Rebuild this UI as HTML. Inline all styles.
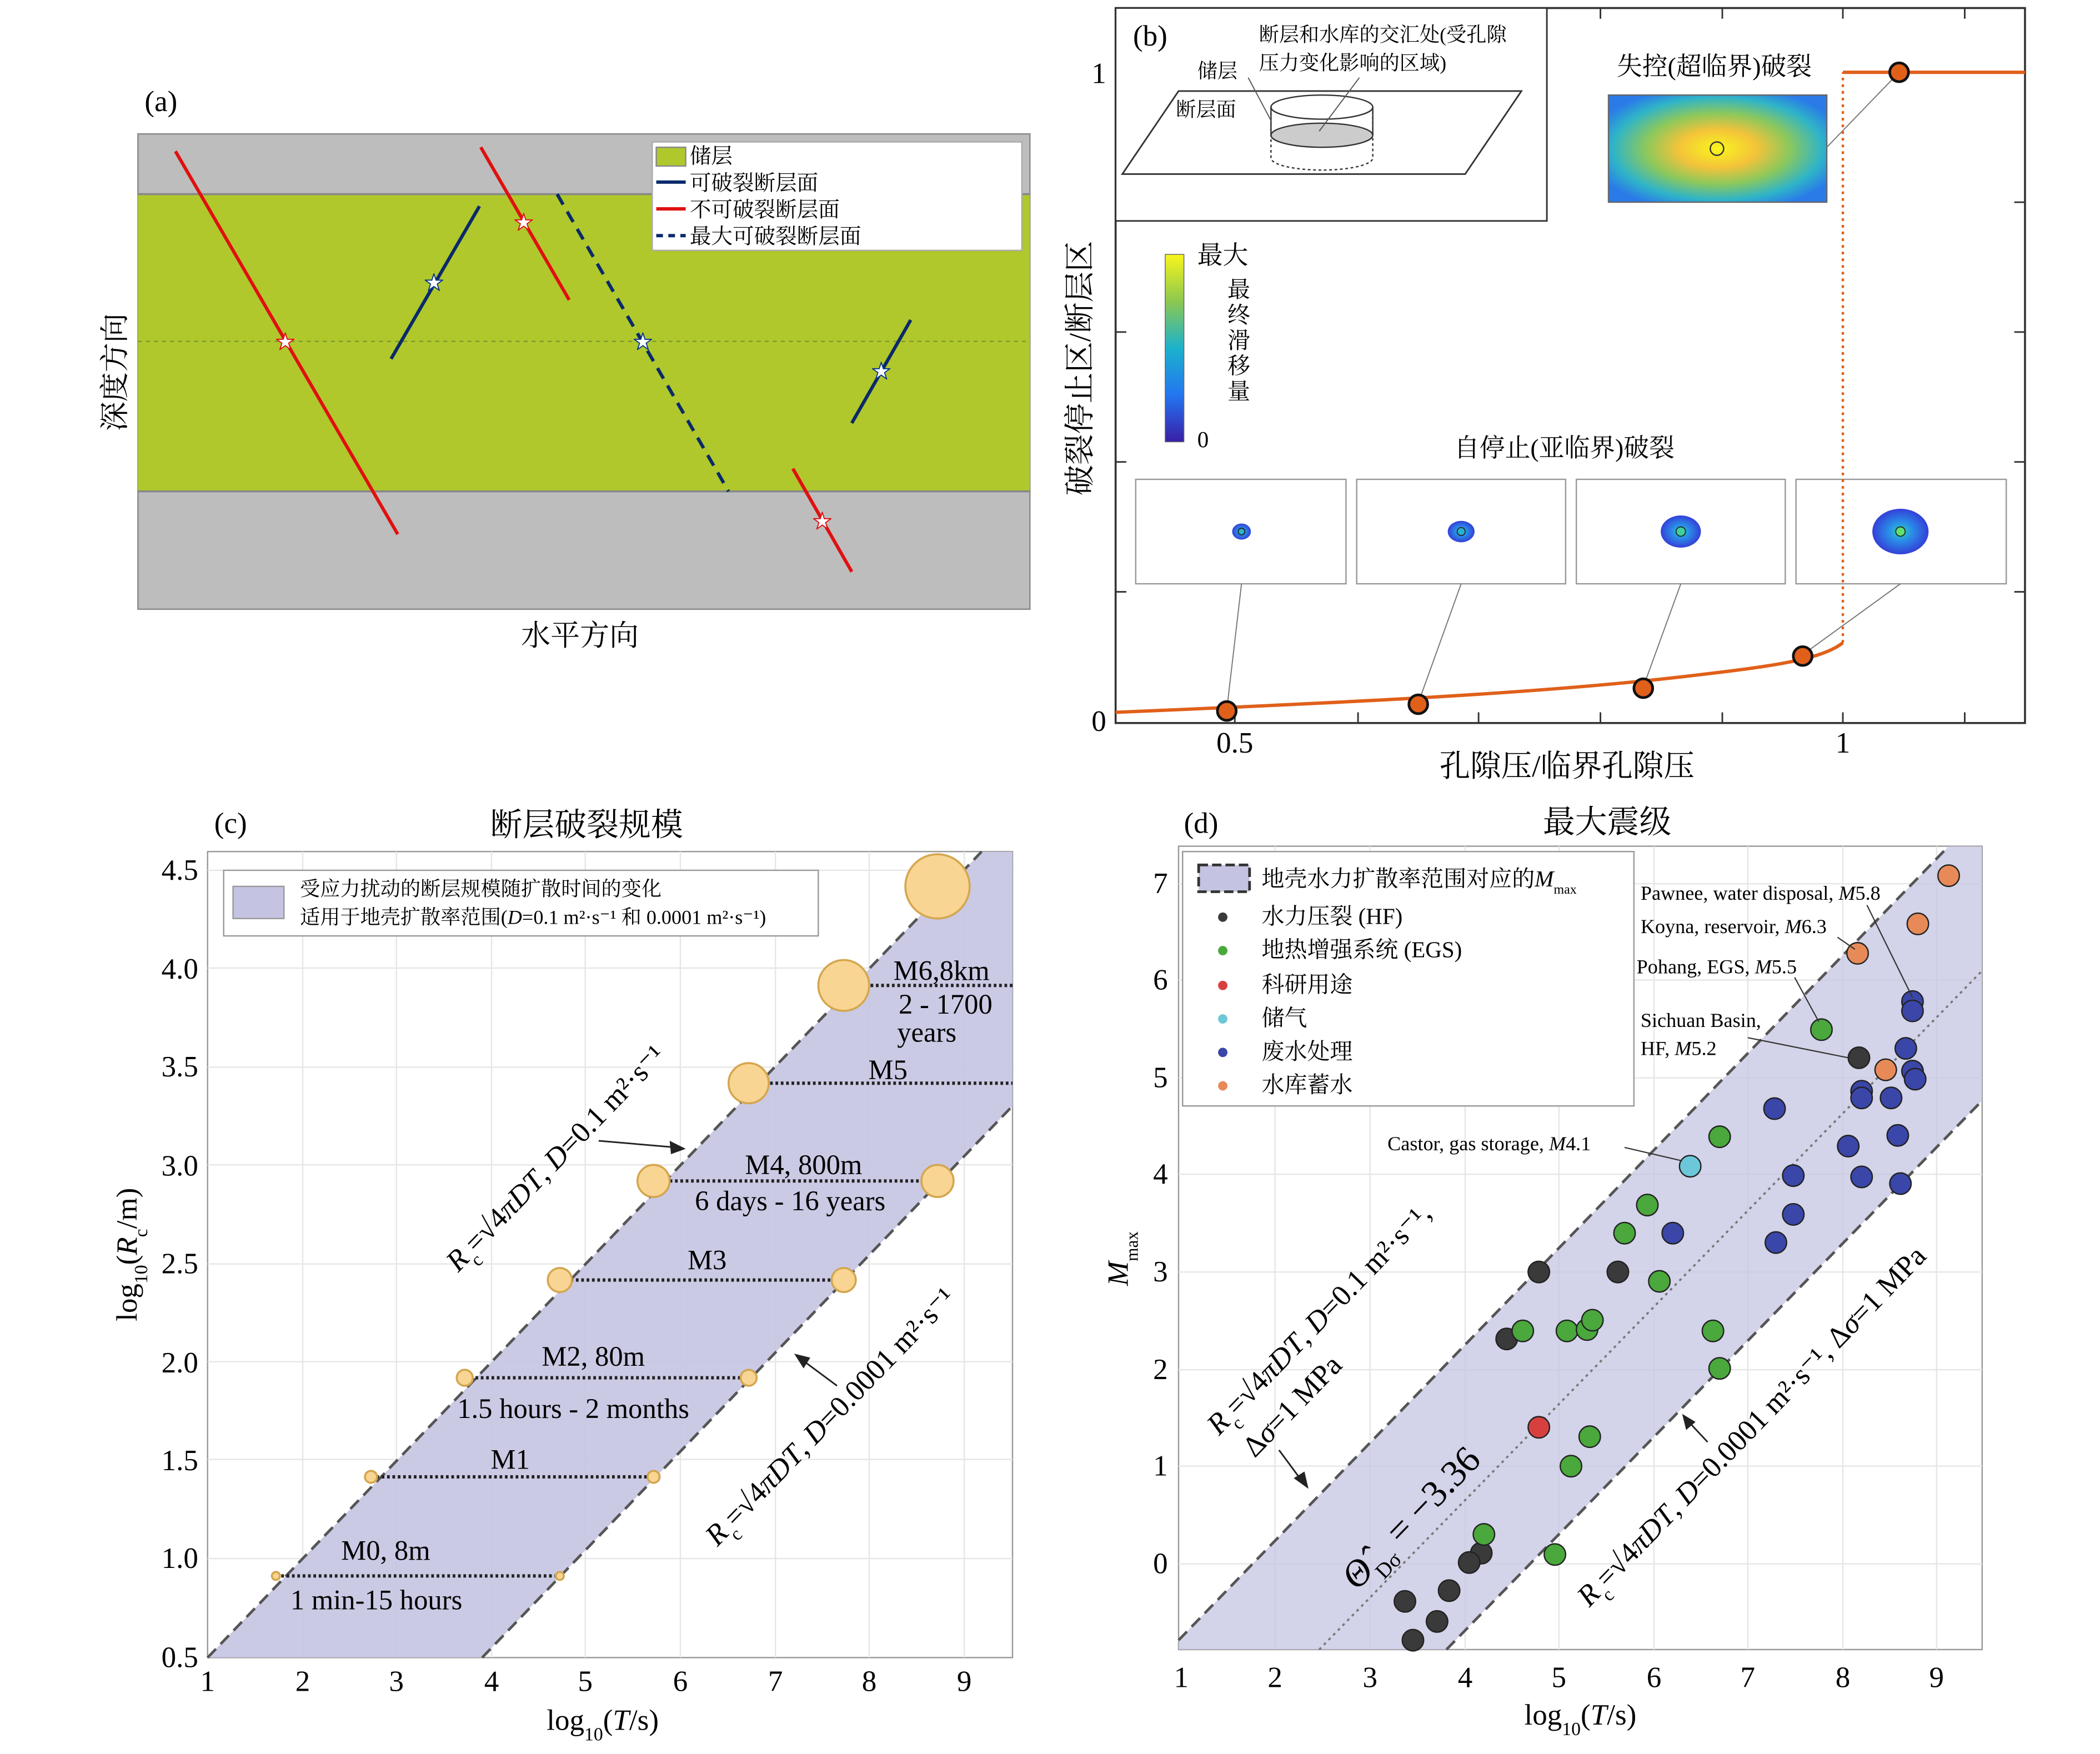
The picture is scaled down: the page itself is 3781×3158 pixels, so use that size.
<!DOCTYPE html>
<html><head><meta charset="utf-8"><style>html,body{margin:0;padding:0;background:#fff}svg{display:block}</style></head>
<body>
<svg xmlns="http://www.w3.org/2000/svg" width="3781" height="3158" viewBox="0 0 1568 1310" preserveAspectRatio="none" font-family="'Liberation Serif','Noto Serif CJK SC',serif">
<defs>
<radialGradient id="hm" cx="0.5" cy="0.5" r="0.6"><stop offset="0" stop-color="#f9f51c"/><stop offset="0.3" stop-color="#f3c33a"/><stop offset="0.55" stop-color="#8cc85c"/><stop offset="0.8" stop-color="#2fb4c8"/><stop offset="1" stop-color="#2a7ae8"/></radialGradient>
<linearGradient id="cb" x1="0" y1="1" x2="0" y2="0"><stop offset="0" stop-color="#3a1ea8"/><stop offset="0.25" stop-color="#2376f0"/><stop offset="0.5" stop-color="#1cb2cc"/><stop offset="0.75" stop-color="#8cc850"/><stop offset="1" stop-color="#f9f51c"/></linearGradient>
<radialGradient id="blob"><stop offset="0" stop-color="#2fd0b0"/><stop offset="0.4" stop-color="#2a90e8"/><stop offset="1" stop-color="#3340d8"/></radialGradient>
</defs>

<!-- Panel (a) -->
<text x="108" y="83" font-size="22">(a)</text>
<rect x="103" y="100" width="666" height="355" fill="#bdbdbd" stroke="#888"/>
<rect x="103" y="145" width="666" height="222" fill="#b0c82c"/>
<line x1="103" y1="145" x2="769" y2="145" stroke="#888" stroke-width="1.5"/>
<line x1="103" y1="367" x2="769" y2="367" stroke="#888" stroke-width="1.5"/>
<line x1="103" y1="255" x2="769" y2="255" stroke="#7a9a30" stroke-dasharray="3,3"/>
<line x1="131" y1="113" x2="297" y2="399" stroke="#e01010" stroke-width="2.5"/>
<line x1="359" y1="110" x2="425" y2="224" stroke="#e01010" stroke-width="2.5"/>
<line x1="592" y1="350" x2="636" y2="427" stroke="#e01010" stroke-width="2.5"/>
<line x1="292" y1="268" x2="358" y2="154" stroke="#0a2a6a" stroke-width="2.5"/>
<line x1="636" y1="316" x2="680" y2="239" stroke="#0a2a6a" stroke-width="2.5"/>
<line x1="416" y1="145" x2="544" y2="367" stroke="#0a2a6a" stroke-width="2.5" stroke-dasharray="9,6"/>
<g font-size="14" text-anchor="middle">
<text x="213" y="260" fill="#fff" stroke="#e01010" stroke-width="0.8">★</text>
<text x="391" y="171" fill="#fff" stroke="#e01010" stroke-width="0.8">★</text>
<text x="614" y="394" fill="#fff" stroke="#e01010" stroke-width="0.8">★</text>
<text x="324" y="216" fill="#fff" stroke="#0a3a8a" stroke-width="0.8">★</text>
<text x="480" y="260" fill="#fff" stroke="#0a3a8a" stroke-width="0.8">★</text>
<text x="658" y="282" fill="#fff" stroke="#0a3a8a" stroke-width="0.8">★</text>
</g>
<rect x="487" y="106" width="276" height="81" fill="#fff" stroke="#aaa"/>
<rect x="490" y="110" width="22" height="14" fill="#b0c82c" stroke="#888"/>
<line x1="490" y1="136" x2="512" y2="136" stroke="#0a2a6a" stroke-width="2.5"/>
<line x1="490" y1="156" x2="512" y2="156" stroke="#e01010" stroke-width="2.5"/>
<line x1="490" y1="176" x2="512" y2="176" stroke="#0a2a6a" stroke-width="2.5" stroke-dasharray="5,4"/>
<g font-size="16"><text x="515" y="122">储层</text><text x="515" y="142">可破裂断层面</text><text x="515" y="162">不可破裂断层面</text><text x="515" y="182">最大可破裂断层面</text></g>
<text x="433" y="482" font-size="22" text-anchor="middle">水平方向</text>
<text transform="translate(93,278) rotate(-90)" font-size="22" text-anchor="middle">深度方向</text>

<!-- Panel (b) -->
<rect x="833" y="6" width="679" height="534" fill="none" stroke="#333" stroke-width="1.5"/>
<g stroke="#333" stroke-width="1.2">
<line x1="922" y1="6" x2="922" y2="14"/><line x1="1014" y1="6" x2="1014" y2="14"/><line x1="1104" y1="6" x2="1104" y2="14"/><line x1="1195" y1="6" x2="1195" y2="14"/><line x1="1286" y1="6" x2="1286" y2="14"/><line x1="1376" y1="6" x2="1376" y2="14"/><line x1="1467" y1="6" x2="1467" y2="14"/>
<line x1="922" y1="540" x2="922" y2="532"/><line x1="1014" y1="540" x2="1014" y2="532"/><line x1="1104" y1="540" x2="1104" y2="532"/><line x1="1195" y1="540" x2="1195" y2="532"/><line x1="1286" y1="540" x2="1286" y2="532"/><line x1="1376" y1="540" x2="1376" y2="532"/><line x1="1467" y1="540" x2="1467" y2="532"/>
<line x1="833" y1="54" x2="841" y2="54"/><line x1="833" y1="151" x2="841" y2="151"/><line x1="833" y1="248" x2="841" y2="248"/><line x1="833" y1="345" x2="841" y2="345"/><line x1="833" y1="442" x2="841" y2="442"/>
<line x1="1512" y1="151" x2="1504" y2="151"/><line x1="1512" y1="248" x2="1504" y2="248"/><line x1="1512" y1="345" x2="1504" y2="345"/><line x1="1512" y1="442" x2="1504" y2="442"/>
</g>
<g font-size="22"><text x="826" y="62" text-anchor="end">1</text><text x="826" y="546" text-anchor="end">0</text><text x="922" y="562" text-anchor="middle">0.5</text><text x="1376" y="562" text-anchor="middle">1</text></g>
<text x="1170" y="580" font-size="23" text-anchor="middle">孔隙压/临界孔隙压</text>
<text transform="translate(814,275) rotate(-90)" font-size="23" text-anchor="middle">破裂停止区/断层区</text>
<!-- inset -->
<rect x="833" y="6" width="322" height="159" fill="#fff" stroke="#333" stroke-width="1.2"/>
<text x="846" y="34" font-size="22">(b)</text>
<polygon points="880,68 1136,68 1094,130 838,130" fill="none" stroke="#333" stroke-width="1.2"/>
<ellipse cx="987" cy="101" rx="38" ry="9" fill="#ccc" stroke="#333"/>
<path d="M949,80 L949,118 A38,9 0 0 0 1025,118 L1025,80" fill="none" stroke="#333" stroke-dasharray="2,2"/>
<ellipse cx="987" cy="80" rx="38" ry="9" fill="none" stroke="#333"/>
<line x1="949" y1="80" x2="949" y2="101" stroke="#333"/><line x1="1025" y1="80" x2="1025" y2="101" stroke="#333"/>
<line x1="932" y1="58" x2="949" y2="90" stroke="#555" stroke-width="0.8"/>
<line x1="1015" y1="58" x2="985" y2="98" stroke="#555" stroke-width="0.8"/>
<g font-size="15"><text x="940" y="31">断层和水库的交汇处(受孔隙</text><text x="940" y="52">压力变化影响的区域)</text><text x="894" y="58">储层</text><text x="878" y="87">断层面</text></g>
<text x="1280" y="56" font-size="19" text-anchor="middle">失控(超临界)破裂</text>
<rect x="1201" y="71" width="163" height="80" fill="url(#hm)" stroke="#666"/>
<circle cx="1282" cy="111" r="5" fill="none" stroke="#333"/>
<line x1="1364" y1="110" x2="1418" y2="54" stroke="#777" stroke-width="0.8"/>
<rect x="870" y="190" width="14" height="140" fill="url(#cb)" stroke="#666" stroke-width="0.6"/>
<text x="894" y="197" font-size="19">最大</text><text x="894" y="334" font-size="17">0</text>
<g font-size="17" text-anchor="middle"><text x="925" y="222">最</text><text x="925" y="241">终</text><text x="925" y="260">滑</text><text x="925" y="279">移</text><text x="925" y="298">量</text></g>
<text x="1168" y="341" font-size="19" text-anchor="middle">自停止(亚临界)破裂</text>
<g fill="#fff" stroke="#999">
<rect x="848" y="358" width="157" height="78"/><rect x="1013" y="358" width="156" height="78"/><rect x="1177" y="358" width="156" height="78"/><rect x="1341" y="358" width="157" height="78"/>
</g>
<ellipse cx="927" cy="397" rx="7" ry="6" fill="url(#blob)"/><circle cx="927" cy="397" r="2.5" fill="none" stroke="#222" stroke-width="0.7"/>
<ellipse cx="1091" cy="397" rx="10" ry="8" fill="url(#blob)"/><circle cx="1091" cy="397" r="3" fill="#2ab0d0" stroke="#222" stroke-width="0.7"/>
<ellipse cx="1255" cy="397" rx="15" ry="12" fill="url(#blob)"/><circle cx="1255" cy="397" r="3.5" fill="#40d0a0" stroke="#222" stroke-width="0.7"/>
<ellipse cx="1419" cy="397" rx="21" ry="17" fill="url(#blob)"/><circle cx="1419" cy="397" r="3.5" fill="#60e070" stroke="#222" stroke-width="0.7"/>
<g stroke="#777" stroke-width="0.8">
<line x1="927" y1="436" x2="916" y2="530"/><line x1="1091" y1="436" x2="1059" y2="525"/><line x1="1255" y1="436" x2="1227" y2="513"/><line x1="1419" y1="436" x2="1346" y2="489"/>
</g>
<path d="M833,532 C1000,525 1150,518 1260,505 C1320,498 1360,493 1376,480" fill="none" stroke="#e0601a" stroke-width="2.5"/>
<line x1="1376" y1="480" x2="1376" y2="54" stroke="#e0601a" stroke-width="1.8" stroke-dasharray="2,3"/>
<line x1="1376" y1="54" x2="1512" y2="54" stroke="#e0601a" stroke-width="2.5"/>
<g fill="#e0601a" stroke="#111" stroke-width="2">
<circle cx="916" cy="531" r="7"/><circle cx="1059" cy="526" r="7"/><circle cx="1227" cy="514" r="7"/><circle cx="1346" cy="490" r="7"/><circle cx="1418" cy="54" r="7"/>
</g>

<!-- Panel (c) -->
<text x="160" y="622" font-size="22">(c)</text>
<text x="438" y="624" font-size="24" text-anchor="middle">断层破裂规模</text>
<rect x="155" y="636" width="601" height="602" fill="#fff" stroke="#999"/>
<g stroke="#e6e6e6" stroke-width="1">
<line x1="226" y1="636" x2="226" y2="1238"/><line x1="296" y1="636" x2="296" y2="1238"/><line x1="367" y1="636" x2="367" y2="1238"/><line x1="437" y1="636" x2="437" y2="1238"/><line x1="508" y1="636" x2="508" y2="1238"/><line x1="579" y1="636" x2="579" y2="1238"/><line x1="649" y1="636" x2="649" y2="1238"/><line x1="720" y1="636" x2="720" y2="1238"/>
<line x1="155" y1="1164" x2="756" y2="1164"/><line x1="155" y1="1090" x2="756" y2="1090"/><line x1="155" y1="1017" x2="756" y2="1017"/><line x1="155" y1="944" x2="756" y2="944"/><line x1="155" y1="870" x2="756" y2="870"/><line x1="155" y1="797" x2="756" y2="797"/><line x1="155" y1="723" x2="756" y2="723"/><line x1="155" y1="650" x2="756" y2="650"/>
</g>
<polygon points="155,1238 733,636 756,636 756,826 360,1238" fill="#c4c4e2" fill-opacity="0.9"/>
<line x1="155" y1="1238" x2="733" y2="636" stroke="#555" stroke-width="2" stroke-dasharray="9,5"/>
<line x1="360" y1="1238" x2="756" y2="826" stroke="#555" stroke-width="2" stroke-dasharray="9,5"/>
<g stroke="#222" stroke-width="2.5" stroke-dasharray="2,2">
<line x1="206" y1="1177" x2="418" y2="1177"/><line x1="277" y1="1103" x2="488" y2="1103"/><line x1="347" y1="1029" x2="559" y2="1029"/><line x1="418" y1="956" x2="630" y2="956"/><line x1="488" y1="882" x2="700" y2="882"/><line x1="559" y1="809" x2="756" y2="809"/><line x1="630" y1="736" x2="756" y2="736"/>
</g>
<g fill="#f8d592" stroke="#d4a650" stroke-width="1.5">
<circle cx="206" cy="1177" r="3"/><circle cx="277" cy="1103" r="4.5"/><circle cx="347" cy="1029" r="6"/><circle cx="418" cy="956" r="9"/><circle cx="488" cy="882" r="12"/><circle cx="559" cy="809" r="15"/><circle cx="630" cy="736" r="19"/><circle cx="700" cy="662" r="24"/>
<circle cx="418" cy="1177" r="3"/><circle cx="488" cy="1103" r="4.5"/><circle cx="559" cy="1029" r="6"/><circle cx="630" cy="956" r="9"/><circle cx="700" cy="882" r="12"/>
</g>
<g font-size="21" text-anchor="middle">
<text x="288" y="1165">M0, 8m</text><text x="281" y="1202">1 min-15 hours</text>
<text x="381" y="1097">M1</text>
<text x="443" y="1020">M2, 80m</text><text x="428" y="1059">1.5 hours - 2 months</text>
<text x="528" y="948">M3</text>
<text x="600" y="877">M4, 800m</text><text x="590" y="904">6 days - 16 years</text>
<text x="663" y="806">M5</text>
<text x="703" y="732">M6,8km</text><text x="706" y="757">2 - 1700</text><text x="692" y="778">years</text>
</g>
<text transform="translate(420,870) rotate(-46)" font-size="22" text-anchor="middle"><tspan font-style="italic">R</tspan><tspan font-size="14" baseline-shift="sub">c</tspan>=√4<tspan font-style="italic">πDT</tspan>, <tspan font-style="italic">D</tspan>=0.1 m²·s⁻¹</text>
<text transform="translate(625,1063) rotate(-46)" font-size="22" text-anchor="middle"><tspan font-style="italic">R</tspan><tspan font-size="14" baseline-shift="sub">c</tspan>=√4<tspan font-style="italic">πDT</tspan>, <tspan font-style="italic">D</tspan>=0.0001 m²·s⁻¹</text>
<line x1="447" y1="852" x2="505" y2="857" stroke="#222" stroke-width="1.2"/><polygon points="512,858 500,852 501,862" fill="#222"/>
<line x1="625" y1="1035" x2="598" y2="1015" stroke="#222" stroke-width="1.2"/><polygon points="593,1011 600,1022 605,1014" fill="#222"/>
<rect x="167" y="650" width="444" height="49" fill="#fff" stroke="#999"/>
<rect x="174" y="662" width="38" height="24" fill="#c4c4e2" stroke="#999"/>
<text x="224" y="669" font-size="15">受应力扰动的断层规模随扩散时间的变化</text>
<text x="224" y="690" font-size="15">适用于地壳扩散率范围(<tspan font-style="italic">D</tspan>=0.1 m²·s⁻¹ 和 0.0001 m²·s⁻¹)</text>
<g font-size="22" text-anchor="end">
<text x="148" y="1245">0.5</text><text x="148" y="1171">1.0</text><text x="148" y="1098">1.5</text><text x="148" y="1025">2.0</text><text x="148" y="951">2.5</text><text x="148" y="878">3.0</text><text x="148" y="804">3.5</text><text x="148" y="731">4.0</text><text x="148" y="657">4.5</text>
</g>
<g font-size="22" text-anchor="middle">
<text x="155" y="1263">1</text><text x="226" y="1263">2</text><text x="296" y="1263">3</text><text x="367" y="1263">4</text><text x="437" y="1263">5</text><text x="508" y="1263">6</text><text x="579" y="1263">7</text><text x="649" y="1263">8</text><text x="720" y="1263">9</text>
</g>
<text x="450" y="1292" font-size="22" text-anchor="middle">log<tspan font-size="14" baseline-shift="sub">10</tspan>(<tspan font-style="italic">T</tspan>/s)</text>
<text transform="translate(102,937) rotate(-90)" font-size="22" text-anchor="middle">log<tspan font-size="14" baseline-shift="sub">10</tspan>(<tspan font-style="italic">R</tspan><tspan font-size="14" baseline-shift="sub">c</tspan>/m)</text>

<!-- Panel (d) -->
<text x="884" y="622" font-size="22">(d)</text>
<text x="1200" y="622" font-size="24" text-anchor="middle">最大震级</text>
<rect x="880" y="632" width="600" height="600" fill="#fff" stroke="#999"/>
<g stroke="#e6e6e6">
<line x1="952" y1="632" x2="952" y2="1232"/><line x1="1023" y1="632" x2="1023" y2="1232"/><line x1="1094" y1="632" x2="1094" y2="1232"/><line x1="1164" y1="632" x2="1164" y2="1232"/><line x1="1235" y1="632" x2="1235" y2="1232"/><line x1="1305" y1="632" x2="1305" y2="1232"/><line x1="1376" y1="632" x2="1376" y2="1232"/><line x1="1446" y1="632" x2="1446" y2="1232"/>
<line x1="880" y1="1168" x2="1480" y2="1168"/><line x1="880" y1="1095" x2="1480" y2="1095"/><line x1="880" y1="1023" x2="1480" y2="1023"/><line x1="880" y1="950" x2="1480" y2="950"/><line x1="880" y1="877" x2="1480" y2="877"/><line x1="880" y1="805" x2="1480" y2="805"/><line x1="880" y1="732" x2="1480" y2="732"/><line x1="880" y1="660" x2="1480" y2="660"/>
</g>
<polygon points="880,1225 1455,632 1480,632 1480,822 1080,1232 880,1232" fill="#c4c4e2" fill-opacity="0.75"/>
<line x1="880" y1="1225" x2="1455" y2="632" stroke="#555" stroke-width="2" stroke-dasharray="9,5"/>
<line x1="1080" y1="1232" x2="1480" y2="822" stroke="#555" stroke-width="2" stroke-dasharray="9,5"/>
<line x1="985" y1="1232" x2="1480" y2="725" stroke="#777" stroke-width="1.5" stroke-dasharray="2,3"/>
<g stroke="#222" stroke-width="1" fill-opacity="1">
<g fill="#3a3a3a">
<circle cx="1149" cy="950" r="8"/><circle cx="1125" cy="1000" r="8"/><circle cx="1208" cy="950" r="8"/><circle cx="1388" cy="790" r="8"/><circle cx="1106" cy="1160" r="8"/><circle cx="1097" cy="1167" r="8"/><circle cx="1082" cy="1188" r="8"/><circle cx="1049" cy="1196" r="8"/><circle cx="1073" cy="1211" r="8"/><circle cx="1055" cy="1225" r="8"/>
</g>
<g fill="#4aa83c">
<circle cx="1360" cy="769" r="8"/><circle cx="1284" cy="849" r="8"/><circle cx="1230" cy="900" r="8"/><circle cx="1213" cy="921" r="8"/><circle cx="1239" cy="957" r="8"/><circle cx="1137" cy="994" r="8"/><circle cx="1170" cy="994" r="8"/><circle cx="1185" cy="993" r="8"/><circle cx="1189" cy="986" r="8"/><circle cx="1279" cy="994" r="8"/><circle cx="1284" cy="1022" r="8"/><circle cx="1187" cy="1073" r="8"/><circle cx="1173" cy="1095" r="8"/><circle cx="1108" cy="1146" r="8"/><circle cx="1161" cy="1161" r="8"/>
</g>
<circle cx="1149" cy="1066" r="8" fill="#d84040"/>
<circle cx="1262" cy="871" r="8" fill="#6cc8d8"/>
<g fill="#3a46a8">
<circle cx="1428" cy="748" r="8"/><circle cx="1428" cy="755" r="8"/><circle cx="1423" cy="783" r="8"/><circle cx="1428" cy="800" r="8"/><circle cx="1430" cy="806" r="8"/><circle cx="1390" cy="815" r="8"/><circle cx="1390" cy="820" r="8"/><circle cx="1412" cy="820" r="8"/><circle cx="1325" cy="828" r="8"/><circle cx="1417" cy="848" r="8"/><circle cx="1380" cy="856" r="8"/><circle cx="1339" cy="878" r="8"/><circle cx="1390" cy="879" r="8"/><circle cx="1419" cy="884" r="8"/><circle cx="1249" cy="921" r="8"/><circle cx="1339" cy="907" r="8"/><circle cx="1326" cy="928" r="8"/>
</g>
<g fill="#e88a58">
<circle cx="1455" cy="654" r="8"/><circle cx="1432" cy="690" r="8"/><circle cx="1387" cy="712" r="8"/><circle cx="1408" cy="799" r="8"/>
</g>
</g>
<g stroke="#333" stroke-width="0.9">
<line x1="1394" y1="676" x2="1428" y2="745"/><line x1="1372" y1="700" x2="1385" y2="709"/><line x1="1340" y1="730" x2="1358" y2="763"/><line x1="1305" y1="775" x2="1380" y2="790"/><line x1="1213" y1="857" x2="1256" y2="867"/>
</g>
<g font-size="15">
<text x="1225" y="672">Pawnee, water disposal, <tspan font-style="italic">M</tspan>5.8</text>
<text x="1225" y="697">Koyna, reservoir, <tspan font-style="italic">M</tspan>6.3</text>
<text x="1222" y="727">Pohang, EGS, <tspan font-style="italic">M</tspan>5.5</text>
<text x="1225" y="767">Sichuan Basin,</text>
<text x="1225" y="788">HF, <tspan font-style="italic">M</tspan>5.2</text>
<text x="1036" y="859">Castor, gas storage, <tspan font-style="italic">M</tspan>4.1</text>
</g>
<rect x="883" y="636" width="337" height="190" fill="#fff" stroke="#999"/>
<rect x="895" y="646" width="38" height="20" fill="#c4c4e2" stroke="#333" stroke-width="2" stroke-dasharray="7,3"/>
<text x="942" y="662" font-size="17">地壳水力扩散率范围对应的<tspan font-style="italic">M</tspan><tspan font-size="10" baseline-shift="sub">max</tspan></text>
<g font-size="17">
<circle cx="913" cy="685" r="3.5" fill="#3a3a3a"/><text x="942" y="690">水力压裂 (HF)</text>
<circle cx="913" cy="710" r="3.5" fill="#4aa83c"/><text x="942" y="715">地热增强系统 (EGS)</text>
<circle cx="913" cy="736" r="3.5" fill="#d84040"/><text x="942" y="741">科研用途</text>
<circle cx="913" cy="761" r="3.5" fill="#6cc8d8"/><text x="942" y="766">储气</text>
<circle cx="913" cy="786" r="3.5" fill="#3a46a8"/><text x="942" y="791">废水处理</text>
<circle cx="913" cy="811" r="3.5" fill="#e88a58"/><text x="942" y="816">水库蓄水</text>
</g>
<text transform="translate(990,990) rotate(-46)" font-size="22" text-anchor="middle"><tspan font-style="italic">R</tspan><tspan font-size="14" baseline-shift="sub">c</tspan>=√4<tspan font-style="italic">πDT</tspan>, <tspan font-style="italic">D</tspan>=0.1 m²·s⁻¹,</text>
<text transform="translate(970,1055) rotate(-46)" font-size="22" text-anchor="middle">Δ<tspan font-style="italic">σ</tspan>=1 MPa</text>
<text transform="translate(1313,1070) rotate(-46)" font-size="22" text-anchor="middle"><tspan font-style="italic">R</tspan><tspan font-size="14" baseline-shift="sub">c</tspan>=√4<tspan font-style="italic">πDT</tspan>, <tspan font-style="italic">D</tspan>=0.0001 m²·s⁻¹, Δ<tspan font-style="italic">σ</tspan>=1 MPa</text>
<text transform="translate(1060,1140) rotate(-46)" font-size="28" text-anchor="middle"><tspan font-style="italic">Θ̂</tspan><tspan font-size="16" baseline-shift="sub">Dσ</tspan> = −3.36</text>
<line x1="955" y1="1083" x2="972" y2="1106" stroke="#222" stroke-width="1.2"/><polygon points="977,1112 966,1104 974,1099" fill="#222"/>
<line x1="1275" y1="1077" x2="1261" y2="1062" stroke="#222" stroke-width="1.2"/><polygon points="1256,1056 1259,1068 1266,1062" fill="#222"/>
<g font-size="22" text-anchor="end">
<text x="872" y="1175">0</text><text x="872" y="1102">1</text><text x="872" y="1030">2</text><text x="872" y="957">3</text><text x="872" y="884">4</text><text x="872" y="812">5</text><text x="872" y="739">6</text><text x="872" y="667">7</text>
</g>
<g font-size="22" text-anchor="middle">
<text x="882" y="1260">1</text><text x="952" y="1260">2</text><text x="1023" y="1260">3</text><text x="1094" y="1260">4</text><text x="1164" y="1260">5</text><text x="1235" y="1260">6</text><text x="1305" y="1260">7</text><text x="1376" y="1260">8</text><text x="1446" y="1260">9</text>
</g>
<text x="1180" y="1288" font-size="22" text-anchor="middle">log<tspan font-size="14" baseline-shift="sub">10</tspan>(<tspan font-style="italic">T</tspan>/s)</text>
<text transform="translate(842,940) rotate(-90)" font-size="22" text-anchor="middle"><tspan font-style="italic">M</tspan><tspan font-size="13" baseline-shift="sub">max</tspan></text>
</svg>
</body></html>
